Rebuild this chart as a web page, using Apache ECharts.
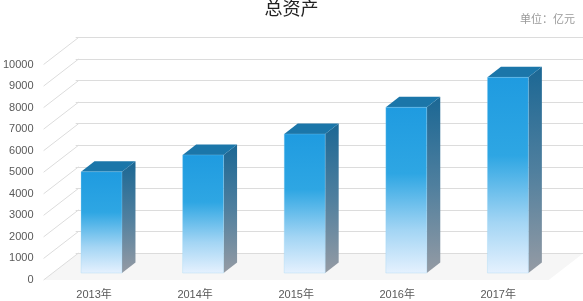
<!DOCTYPE html>
<html>
<head>
<meta charset="utf-8">
<script src="https://cdn.jsdelivr.net/npm/echarts@6/dist/echarts.min.js"></script>
<style>html,body{margin:0;padding:0;background:#fff;}#c{width:583px;height:301px;}</style>
</head>
<body>
<div id="c"></div>
<script>
const categories = ['2013年', '2014年', '2015年', '2016年', '2017年'];
const values = [4700, 5480, 6450, 7690, 9080];
const yTicks = [0, 1000, 2000, 3000, 4000, 5000, 6000, 7000, 8000, 9000, 10000];

const DX = 35, DY = -27;      // wall depth
const BDX = 13.5, BDY = -10.5; // bar depth
const FONT = 'Liberation Sans, Arial, Noto Sans CJK SC, sans-serif';

const chart = echarts.init(document.getElementById('c'), null, {renderer: 'canvas'});

const frontGrad = () => new echarts.graphic.LinearGradient(0, 0, 0, 1, [
  {offset: 0, color: '#1f9be0'},
  {offset: 0.4, color: '#2ea6e3'},
  {offset: 0.74, color: '#a3d5f4'},
  {offset: 1, color: '#e5f1fe'}
]);
const sideGrad = () => new echarts.graphic.LinearGradient(0, 0, 0, 1, [
  {offset: 0, color: '#1b6794'},
  {offset: 0.5, color: '#4f7f9e'},
  {offset: 1, color: '#959ba4'}
]);

const option = {
  animation: false,
  title: [
    {text: '总资产', left: 'center', top: -4, textStyle: {fontSize: 18, fontWeight: 'normal', color: '#222', fontFamily: FONT}},
    {text: '单位：亿元', right: 3, top: 9, textStyle: {fontSize: 11, fontWeight: 'normal', color: '#999', fontFamily: FONT}}
  ],
  grid: [
    {left: 50.7, top: 57.5, width: 508, height: 215.5},   // bar plane
    {left: 40.7, top: 64.5, width: 508, height: 215.5},   // front plane
    {left: 75.7, top: 37.5, width: 508, height: 215.5}    // back wall
  ],
  xAxis: [
    {type: 'category', gridIndex: 0, data: categories, show: false},
    {type: 'category', gridIndex: 1, data: categories, axisLine: {show: false}, axisTick: {show: false},
     axisLabel: {margin: 9, color: '#595959', fontSize: 11, fontFamily: FONT}},
    {type: 'category', gridIndex: 2, data: categories, show: false}
  ],
  yAxis: [
    {type: 'value', gridIndex: 0, min: 0, max: 10000, interval: 1000, show: false},
    {type: 'value', gridIndex: 1, min: 0, max: 10000, interval: 1000, axisLine: {show: false}, axisTick: {show: false},
     splitLine: {show: false}, axisLabel: {margin: 10, color: '#595959', fontSize: 11, fontFamily: FONT, formatter: v => String(v)}},
    {type: 'value', gridIndex: 2, min: 0, max: 10000, interval: 1000, axisLine: {show: false}, axisTick: {show: false},
     axisLabel: {show: false}, splitLine: {show: true, lineStyle: {color: '#dcdcdc', width: 1}}}
  ],
  series: [
    {
      type: 'custom', xAxisIndex: 1, yAxisIndex: 1, z: -1, silent: true,
      data: [[0, 0]],
      renderItem: function (params) {
        const cs = params.coordSys;
        const yb = cs.y + cs.height;
        return {
          type: 'polygon',
          shape: {points: [[cs.x, yb], [cs.x + cs.width, yb], [cs.x + cs.width + DX, yb + DY], [cs.x + DX, yb + DY]]},
          style: {fill: '#f6f6f6'}
        };
      }
    },
    {
      type: 'custom', xAxisIndex: 1, yAxisIndex: 1, silent: true, z: 1,
      data: yTicks.map(v => [0, v]),
      renderItem: function (params, api) {
        const p = api.coord([0, api.value(1)]);
        const x = params.coordSys.x;
        return {
          type: 'line',
          shape: {x1: x, y1: p[1], x2: x + DX, y2: p[1] + DY},
          style: {stroke: '#dcdcdc', lineWidth: 1}
        };
      }
    },
    {
      type: 'custom', xAxisIndex: 0, yAxisIndex: 0, z: 3,
      data: values.map((v, i) => [i, v]),
      renderItem: function (params, api) {
        const i = api.value(0), v = api.value(1);
        const base = api.coord([i, 0]);
        const top = api.coord([i, v]);
        const band = api.size([1, 0])[0];
        const w = band * 0.403;
        const x0 = base[0] - w / 2, x1 = base[0] + w / 2;
        const yb = base[1], yt = top[1];
        return {
          type: 'group',
          children: [
            {type: 'polygon', shape: {points: [[x1, yt], [x1 + BDX, yt + BDY], [x1 + BDX, yb + BDY], [x1, yb]]},
             style: {fill: sideGrad()}},
            {type: 'polygon', shape: {points: [[x0, yt], [x1, yt], [x1 + BDX, yt + BDY], [x0 + BDX, yt + BDY]]},
             style: {fill: '#1b76a9'}},
            {type: 'rect', shape: {x: x0, y: yt, width: w, height: yb - yt},
             style: {fill: frontGrad(), stroke: 'rgba(150,210,245,0.6)', lineWidth: 0.5}}
          ]
        };
      }
    }
  ]
};
chart.setOption(option);
</script>
</body>
</html>
